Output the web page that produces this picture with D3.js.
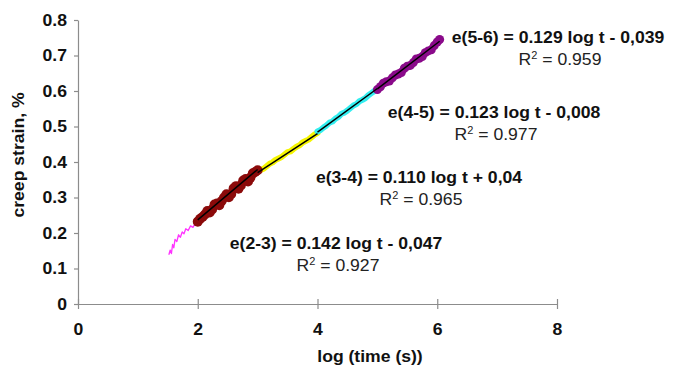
<!DOCTYPE html>
<html>
<head>
<meta charset="utf-8">
<script src="https://cdn.jsdelivr.net/npm/d3@7"></script>
<style>
  body { margin: 0; background: #fff; }
  text { font-family: Arial, "Liberation Sans", sans-serif; }
</style>
</head>
<body>
<svg id="chart" width="673" height="372"></svg>
<script>
// tick labels
const xTicks = [0, 2, 4, 6, 8];
const yTicks = [0, 0.1, 0.2, 0.3, 0.4, 0.5, 0.6, 0.7, 0.8];

// measured creep strain, split by log(t) decade
const magentaX = [1.52, 1.54, 1.56, 1.58, 1.60, 1.62, 1.65, 1.68, 1.71, 1.74, 1.77, 1.80, 1.84, 1.88, 1.92, 1.96, 2.00];
const magentaY = [0.140, 0.152, 0.142, 0.168, 0.158, 0.182, 0.176, 0.195, 0.188, 0.203, 0.198, 0.212, 0.207, 0.220, 0.216, 0.228, 0.232];

const redX = [2.00, 2.04, 2.08, 2.12, 2.16, 2.20, 2.24, 2.28, 2.32, 2.36, 2.40, 2.44, 2.48, 2.52, 2.56, 2.60, 2.64, 2.68, 2.72, 2.76, 2.80, 2.84, 2.88, 2.92, 2.96, 3.00];
const redY = [0.232, 0.240, 0.245, 0.252, 0.262, 0.258, 0.266, 0.280, 0.283, 0.278, 0.290, 0.300, 0.309, 0.301, 0.310, 0.326, 0.332, 0.325, 0.334, 0.348, 0.352, 0.345, 0.356, 0.368, 0.372, 0.377];

const yellowX = [3.00, 3.05, 3.10, 3.15, 3.20, 3.25, 3.30, 3.35, 3.40, 3.45, 3.50, 3.55, 3.60, 3.65, 3.70, 3.75, 3.80, 3.85, 3.90, 3.95, 4.00];
const yellowY = [0.372, 0.378, 0.381, 0.388, 0.395, 0.399, 0.406, 0.410, 0.414, 0.421, 0.428, 0.430, 0.437, 0.443, 0.447, 0.455, 0.459, 0.463, 0.470, 0.477, 0.482];

const cyanX = [4.00, 4.05, 4.10, 4.15, 4.20, 4.25, 4.30, 4.35, 4.40, 4.45, 4.50, 4.55, 4.60, 4.65, 4.70, 4.75, 4.80, 4.85, 4.90, 4.95, 5.00];
const cyanY = [0.486, 0.490, 0.497, 0.503, 0.511, 0.514, 0.522, 0.527, 0.536, 0.539, 0.545, 0.552, 0.559, 0.563, 0.571, 0.575, 0.580, 0.588, 0.594, 0.600, 0.607];

const purpleX = [5.00, 5.05, 5.10, 5.15, 5.20, 5.25, 5.30, 5.35, 5.40, 5.45, 5.50, 5.55, 5.60, 5.65, 5.70, 5.75, 5.80, 5.85, 5.90, 5.95, 6.00, 6.04];
const purpleY = [0.604, 0.612, 0.622, 0.626, 0.628, 0.637, 0.645, 0.648, 0.652, 0.664, 0.670, 0.672, 0.680, 0.690, 0.692, 0.697, 0.708, 0.713, 0.716, 0.728, 0.738, 0.745];

// log trendlines per decade
const fitNames = ['e(2-3)', 'e(3-4)', 'e(4-5)', 'e(5-6)'];
const fitSlope = [0.142, 0.110, 0.123, 0.129];
const fitIntercept = [-0.047, 0.04, -0.008, -0.039];
const fitInterceptText = ['- 0,047', '+ 0,04', '- 0,008', '- 0,039'];
const fitFrom = [2, 3, 4, 5];
const fitTo = [3, 4, 5, 6.04];
const fitR2 = ['0.927', '0.965', '0.977', '0.959'];

const svg = d3.select('#chart');
const mLeft = 78, mRight = 557, mTop = 20, mBottom = 304;
const sx = 1.1; // text in the source is stretched sideways

const x = d3.scaleLinear().domain([0, 8]).range([mLeft, mRight]);
const y = d3.scaleLinear().domain([0, 0.8]).range([mBottom, mTop]);

// axes
const yAxis = svg.append('g')
  .attr('transform', `translate(${mLeft},0)`)
  .call(d3.axisLeft(y).tickValues(yTicks).tickSize(4).tickSizeOuter(0)
    .tickFormat(d => d === 0 ? '0' : d.toFixed(1)));

const xAxis = svg.append('g')
  .attr('transform', `translate(0,${mBottom})`)
  .call(d3.axisBottom(x).tickValues(xTicks).tickSize(5).tickSizeOuter(0));

[yAxis, xAxis].forEach(g => {
  g.select('.domain').attr('stroke', '#8c8c8c').attr('stroke-width', 1.2);
  g.selectAll('.tick line').attr('stroke', '#8c8c8c').attr('stroke-width', 1.2);
  g.selectAll('.tick text')
    .attr('fill', '#111')
    .style('font-size', '16px')
    .style('font-weight', 'bold');
});
yAxis.selectAll('.tick text').attr('x', -10).attr('transform', `scale(${sx},1)`);
xAxis.selectAll('.tick line').attr('y1', -5).attr('y2', 5);
xAxis.selectAll('.tick text').attr('y', 20).attr('transform', `scale(${sx},1)`);

// axis titles
svg.append('text')
  .attr('transform', `translate(370,362) scale(${sx},1)`)
  .attr('text-anchor', 'middle')
  .style('font-size', '16px').style('font-weight', 'bold').attr('fill', '#111')
  .text('log (time (s))');

svg.append('text')
  .attr('transform', `translate(24,155) rotate(-90) scale(${sx},1)`)
  .attr('text-anchor', 'middle')
  .style('font-size', '16px').style('font-weight', 'bold').attr('fill', '#111')
  .text('creep strain, %');

// data
const series = [
  { xs: magentaX, ys: magentaY, color: '#ff33ff', w: 1.3, r: 0 },
  { xs: yellowX, ys: yellowY, color: '#f5f500', w: 6, r: 0 },
  { xs: cyanX, ys: cyanY, color: '#33eef0', w: 6, r: 0 },
  { xs: redX, ys: redY, color: '#8b0a0a', w: 8, r: 5 },
  { xs: purpleX, ys: purpleY, color: '#8a0a8a', w: 7, r: 4.5 }
];

const line = d3.line().x(d => x(d[0])).y(d => y(d[1]));

series.forEach(s => {
  const pts = s.xs.map((v, i) => [v, s.ys[i]]);
  svg.append('path')
    .attr('d', line(pts))
    .attr('fill', 'none')
    .attr('stroke', s.color)
    .attr('stroke-width', s.w)
    .attr('stroke-linejoin', 'round')
    .attr('stroke-linecap', 'round');
  if (s.r > 0) {
    svg.selectAll(null).data(pts).enter().append('circle')
      .attr('cx', d => x(d[0]))
      .attr('cy', d => y(d[1]))
      .attr('r', s.r)
      .attr('fill', s.color);
  }
});

// trendlines
fitSlope.forEach((a, i) => {
  const b = fitIntercept[i];
  svg.append('line')
    .attr('x1', x(fitFrom[i])).attr('y1', y(a * fitFrom[i] + b))
    .attr('x2', x(fitTo[i])).attr('y2', y(a * fitTo[i] + b))
    .attr('stroke', '#000').attr('stroke-width', 1.5);
});

// trendline labels
const labelX = [336, 419, 494, 558];
const labelY = [249, 183, 118, 43];
fitNames.forEach((n, i) => {
  svg.append('text')
    .attr('transform', `translate(${labelX[i]},${labelY[i]}) scale(${sx},1)`)
    .attr('text-anchor', 'middle')
    .style('font-size', '16px').style('font-weight', 'bold').attr('fill', '#111')
    .text(`${n} = ${fitSlope[i].toFixed(3)} log t ${fitInterceptText[i]}`);

  const r = svg.append('text')
    .attr('transform', `translate(${labelX[i] + 2},${labelY[i] + 22}) scale(${sx},1)`)
    .attr('text-anchor', 'middle')
    .style('font-size', '16px').attr('fill', '#222');
  r.append('tspan').text('R');
  r.append('tspan').attr('dy', -6).style('font-size', '10px').text('2');
  r.append('tspan').attr('dy', 6).text(` = ${fitR2[i]}`);
});
</script>
</body>
</html>
